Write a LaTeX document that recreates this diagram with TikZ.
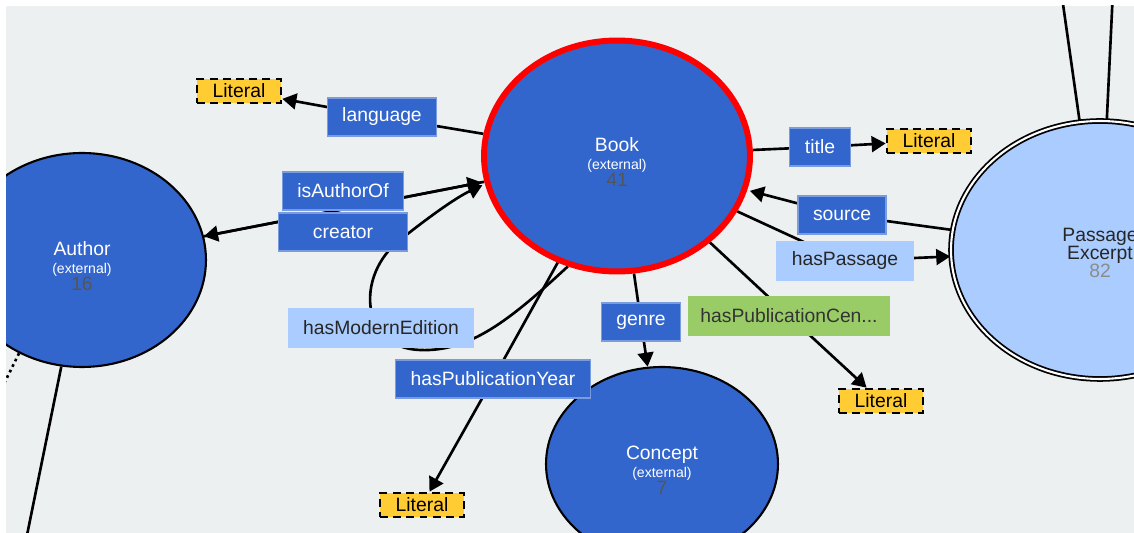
\documentclass[tikz,border=0pt]{standalone}
\usepackage{fontspec}
\setmainfont{Liberation Sans}
\usetikzlibrary{arrows.meta,shapes.geometric,backgrounds}

\definecolor{vowlblue}{HTML}{3366CC}
\definecolor{vowllight}{HTML}{AACCFF}
\definecolor{vowlgreen}{HTML}{99CC66}
\definecolor{vowlyellow}{HTML}{FFCC33}
\definecolor{canvas}{HTML}{ECF0F1}
\definecolor{numgray}{HTML}{555555}

\begin{document}
\begin{tikzpicture}[
    x=0.02cm, y=-0.02cm,
    font=\fontsize{11}{12}\selectfont,
    classnode/.style={ellipse, draw=black, line width=1.2pt, fill=vowlblue, text=white, align=center, inner sep=0pt, text height=34.5pt},
    passnode/.style={ellipse, draw=black, line width=1pt, double=white, double distance=1.2pt, fill=vowllight, text=black!85, align=center, inner sep=0pt, text height=31.5pt},
    proplabel/.style={rectangle, fill=vowlblue, draw=vowlblue!65!white, line width=0.6pt, text=white, minimum height=0.76cm, inner xsep=0.3cm, inner ysep=0pt},
    lightlabel/.style={proplabel, fill=vowllight, draw=vowllight, text=black!85},
    datalabel/.style={proplabel, fill=vowlgreen, draw=vowlgreen, text=black!80},
    literal/.style={rectangle, fill=vowlyellow, draw=black, line width=1.5pt, dash pattern=on 4.5pt off 3pt, minimum width=1.68cm, minimum height=0.48cm, inner sep=0pt},
    edge/.style={draw=black, line width=1.5pt},
    arrowedge/.style={edge, -{Triangle[length=8pt, width=9pt]}},
    tobook/.style={arrowedge, shorten >=1.6pt}
]

\useasboundingbox (0,0) rectangle (1134,533);
\clip (6,6) rectangle (1134,533);

% Classes
\node[classnode, draw=red, line width=3.4pt, minimum width=5.32cm, minimum height=4.62cm] (book) at (617,156)
    {Book\\[-1.8pt]{\fontsize{8}{8}\selectfont(external)}\\[-2.6pt]{\color{numgray}41}};
\node[classnode, minimum width=4.96cm, minimum height=4.28cm] (author) at (82,260)
    {Author\\[-1.8pt]{\fontsize{8}{8}\selectfont(external)}\\[-2.6pt]{\color{numgray}16}};
\node[classnode, minimum width=4.64cm, minimum height=3.88cm] (concept) at (662,464)
    {Concept\\[-1.8pt]{\fontsize{8}{8}\selectfont(external)}\\[-2.6pt]{\color{numgray}7}};
\node[passnode, minimum width=5.96cm, minimum height=5.16cm] (passage) at (1100,250)
    {Passage\\[-1.8pt]Excerpt\\[-1.8pt]{\color{black!45}82}};

% Literals
\node[literal] (litA) at (239,91) {Literal};
\node[literal] (litB) at (929,141) {Literal};
\node[literal] (litC) at (881,401) {Literal};
\node[literal] (litD) at (422,505) {Literal};

% Property labels
\node[proplabel] (lang) at (382,117) {language};
\node[proplabel] (isauth) at (343,191) {isAuthorOf};
\node[proplabel, minimum width=2.58cm] (creat) at (343,232) {creator};
\node[lightlabel] (modern) at (381,328) {hasModernEdition};
\node[proplabel] (pubyear) at (493,379) {hasPublicationYear};
\node[proplabel] (genre) at (641,322) {genre};
\node[datalabel, inner xsep=0.23cm] (pubcen) at (789,316) {hasPublicationCen...};
\node[proplabel] (title) at (820,147) {title};
\node[proplabel] (source) at (842,215) {source};
\node[lightlabel] (haspass) at (845,261) {hasPassage};

% Free ends
\coordinate (topA) at (1061,-10);
\coordinate (topB) at (1113,-10);
\coordinate (downA) at (25,545);
\coordinate (dotA) at (-10,412);

% Connectors
\begin{scope}[on background layer]
\fill[canvas] (6,6) rectangle (1134,533);
\clip (6,6) rectangle (1134,533);

\draw[edge] (book) -- (lang.center);
\draw[arrowedge] (lang.center) -- (litA);

\draw[tobook] (author) -- (book);
\draw[arrowedge] (book) -- (author);

\draw[tobook] (book.246) .. controls (510,320) and (470,352) .. (420,350)
    .. controls (360,348) and (355,275) .. (400,240)
    .. controls (425,220) and (455,198) .. (book.192);

\draw[edge] (book) -- (pubyear.center);
\draw[arrowedge] (pubyear.center) -- (litD);

\draw[edge] (book) -- (genre.center);
\draw[arrowedge] (genre.center) -- (concept);

\draw[edge] (book) -- (pubcen.center);
\draw[arrowedge] (pubcen.center) -- (litC);

\draw[edge] (book) -- (title.center);
\draw[arrowedge] (title.center) -- (litB);

\draw[edge] (passage) -- (source.center);
\draw[tobook] (source.center) -- (book);

\draw[edge] (book) -- (haspass.center);
\draw[arrowedge] (haspass.center) -- (passage);

\draw[edge] (passage.99) -- (topA);
\draw[edge] (passage.87) -- (topB);
\draw[edge] (author.259) -- (downA);
\draw[edge, dotted] (author.236) -- (dotA);
\end{scope}

\end{tikzpicture}
\end{document}
